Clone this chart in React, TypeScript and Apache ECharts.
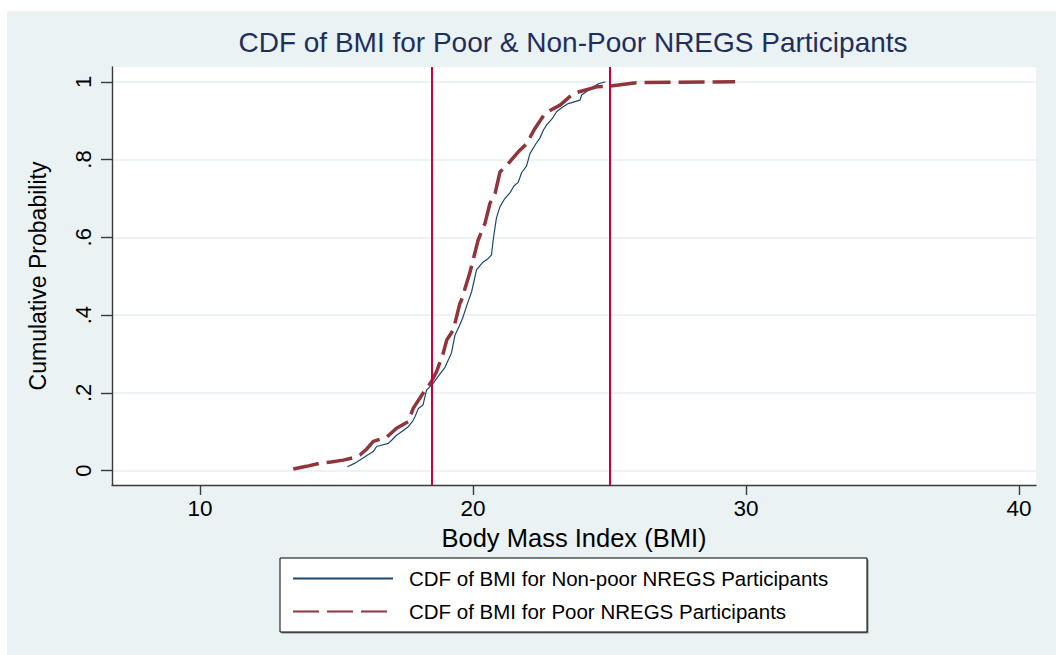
import React, { useEffect, useRef } from "react";
import * as echarts from "echarts";

const titleText = "CDF of BMI for Poor & Non-Poor NREGS Participants";
const seriesNames = [
  "CDF of BMI for Non-poor NREGS Participants",
  "CDF of BMI for Poor NREGS Participants",
];

const nonPoorBMI = [
  15.4, 15.7, 15.86, 16.1, 16.35, 16.47, 16.9, 17.05, 17.2, 17.45, 17.63, 17.8, 17.88, 18.0,
  18.17, 18.3, 18.55, 18.67, 18.97, 19.1, 19.21, 19.34, 19.5, 19.62, 19.8, 19.95, 20.13, 20.35,
  20.55, 20.68, 20.74, 20.86, 20.99, 21.15, 21.36, 21.5, 21.66, 21.78, 21.96, 22.09, 22.3, 22.45,
  22.58, 22.7, 22.9, 23.06, 23.25, 23.49, 23.92, 23.98, 24.2, 24.41, 24.6, 24.85,
];
const nonPoorCDF = [
  0.01, 0.02, 0.027, 0.038, 0.049, 0.062, 0.07, 0.08, 0.091, 0.103, 0.113, 0.128, 0.139, 0.16,
  0.169, 0.207, 0.225, 0.237, 0.265, 0.285, 0.302, 0.348, 0.372, 0.392, 0.43, 0.46, 0.516, 0.535,
  0.545, 0.555, 0.593, 0.65, 0.679, 0.698, 0.715, 0.732, 0.742, 0.766, 0.783, 0.816, 0.84, 0.855,
  0.876, 0.889, 0.905, 0.923, 0.933, 0.944, 0.953, 0.966, 0.977, 0.987, 0.995, 1.0,
];

const poorBMI = [
  13.42, 13.9, 14.4, 14.8, 15.25, 15.6, 15.86, 16.1, 16.35, 16.84, 17.2, 17.63, 17.81, 18.17,
  18.48, 18.67, 18.91, 19.04, 19.28, 19.52, 19.58, 19.89, 20.19, 20.44, 20.62, 20.81, 20.99,
  21.36, 21.66, 21.96, 22.27, 22.64, 23.19, 23.68, 24.53, 25.02, 25.9, 26.12, 29.6,
];
const poorCDF = [
  0.004, 0.011, 0.019, 0.022, 0.027, 0.033, 0.04, 0.055, 0.075, 0.086, 0.109, 0.126, 0.16, 0.199,
  0.229, 0.255, 0.302, 0.336, 0.362, 0.43, 0.439, 0.51, 0.593, 0.636, 0.687, 0.713, 0.768,
  0.795, 0.82, 0.84, 0.88, 0.919, 0.94, 0.97, 0.987, 0.989, 0.997, 0.998, 1.0,
];

const cutoffs = [18.5, 25];
const xTicks = [10, 20, 30, 40];
const yTicks = [0, 0.2, 0.4, 0.6, 0.8, 1];
const yTickLabels = ["0", ".2", ".4", ".6", ".8", "1"];

const FONT = "'Liberation Sans', Arial, Helvetica, sans-serif";

export default function App() {
  const ref = useRef<HTMLDivElement>(null);
  useEffect(() => {
    if (!ref.current) return;
    const chart = echarts.init(ref.current, null, { renderer: "svg" });
    const nonPoor = nonPoorBMI.map((x, i) => [x, nonPoorCDF[i]]);
    const poor = poorBMI.map((x, i) => [x, poorCDF[i]]);
    const axisCol = "#3a3a3a";
    chart.setOption({
      animation: false,
      backgroundColor: "#ffffff",
      textStyle: { fontFamily: FONT },
      graphic: [
        {
          type: "rect",
          z: -10,
          shape: { x: 7, y: 11, width: 1049, height: 644 },
          style: { fill: "#EAF2F3" },
          silent: true,
        },
        {
          type: "text",
          x: 573,
          y: 42,
          style: {
            text: titleText,
            fontSize: 28,
            fontFamily: FONT,
            fill: "#1e2f5e",
            textAlign: "center",
            textVerticalAlign: "middle",
          },
        },
        {
          type: "rect",
          shape: { x: 281.5, y: 559.5, width: 587, height: 74 },
          style: { fill: "#808080" },
          silent: true,
        },
        {
          type: "rect",
          shape: { x: 280, y: 558, width: 587, height: 74 },
          style: { fill: "#ffffff", stroke: "#000000", lineWidth: 1 },
          silent: true,
        },
      ],
      grid: {
        left: 112,
        top: 67,
        right: 20,
        bottom: 170,
        show: true,
        backgroundColor: "#ffffff",
        borderWidth: 0,
      },
      legend: {
        orient: "vertical",
        left: 287,
        top: 563,
        itemWidth: 100,
        itemHeight: 14,
        itemGap: 12,
        padding: 5,
        itemStyle: { opacity: 0 },
        formatter: (name: string) => "{pad|}" + name,
        textStyle: {
          fontSize: 20.5,
          color: "#000",
          fontFamily: FONT,
          rich: { pad: { width: 11 } },
        },
        data: seriesNames,
      },
      xAxis: {
        type: "value",
        min: 6.78,
        max: 40.62,
        name: "Body Mass Index (BMI)",
        nameLocation: "middle",
        nameGap: 37,
        nameTextStyle: { fontSize: 25.5, color: "#000", fontFamily: FONT },
        axisLine: { show: true, onZero: false, lineStyle: { color: axisCol, width: 1.4 } },
        axisTick: { show: true, length: 10, customValues: xTicks, lineStyle: { color: axisCol, width: 1.4 } },
        axisLabel: { customValues: xTicks, margin: 12, fontSize: 22.5, color: "#000", fontFamily: FONT },
        splitLine: { show: false },
      },
      yAxis: {
        type: "value",
        min: -0.037,
        max: 1.038,
        name: "Cumulative Probability",
        nameLocation: "middle",
        nameGap: 63,
        nameTextStyle: { fontSize: 23, color: "#000", fontFamily: FONT },
        axisLine: { show: true, onZero: false, lineStyle: { color: axisCol, width: 1.4 } },
        axisTick: { show: true, length: 11, customValues: yTicks, lineStyle: { color: axisCol, width: 1.4 } },
        axisLabel: {
          customValues: yTicks,
          rotate: 90,
          margin: 18,
          fontSize: 22,
          color: "#000",
          fontFamily: FONT,
          formatter: (v: number) => {
            const i = yTicks.findIndex((t) => Math.abs(t - v) < 1e-6);
            return i >= 0 ? yTickLabels[i] : "";
          },
        },
        splitLine: { show: true, lineStyle: { color: "#E6EFF1", width: 1.6 } },
      },
      series: [
        {
          name: seriesNames[0],
          type: "line",
          data: nonPoor,
          symbol: "none",
          showSymbol: false,
          lineStyle: { color: "#1a476f", width: 1.2 },
          itemStyle: { color: "#1a476f" },
          z: 3,
        },
        {
          name: seriesNames[1],
          type: "line",
          data: poor,
          symbol: "none",
          showSymbol: false,
          lineStyle: { color: "#90353b", width: 3.5, type: [26, 8] },
          itemStyle: { color: "#90353b" },
          z: 4,
          markLine: {
            silent: true,
            symbol: ["none", "none"],
            label: { show: false },
            lineStyle: { color: "#c8003a", width: 2, type: "solid" },
            data: cutoffs.map((c) => ({ xAxis: c })),
            z: 6,
          },
        },
      ],
    });
    return () => chart.dispose();
  }, []);
  return (
    <div
      ref={ref}
      style={{ position: "fixed", left: 0, top: 0, width: 1056, height: 655 }}
    />
  );
}
